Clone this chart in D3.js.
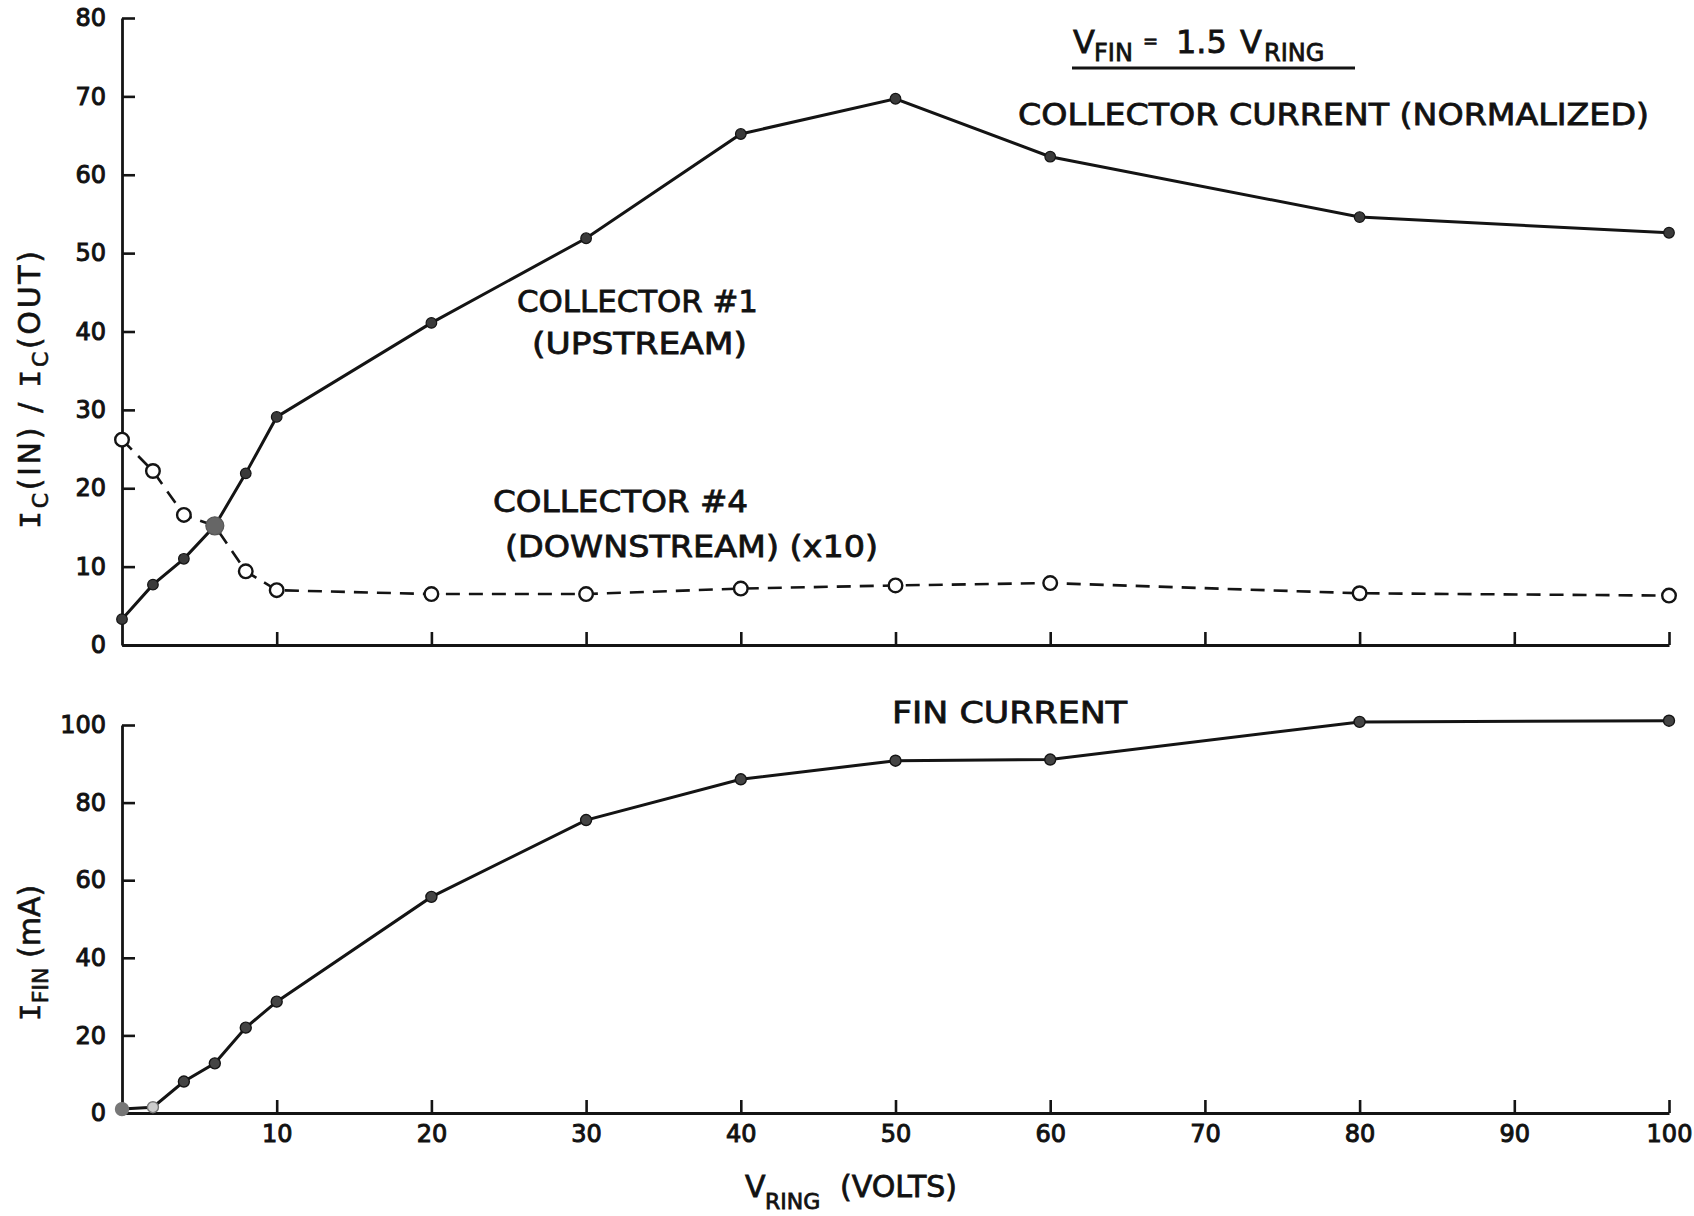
<!DOCTYPE html>
<html>
<head>
<meta charset="utf-8">
<script src="https://cdn.jsdelivr.net/npm/d3@7/dist/d3.min.js"></script>
<style>
  html, body { margin: 0; padding: 0; background: #fff; }
  svg { display: block; }
  text { font-family: "DejaVu Sans", sans-serif; fill: #111; }
</style>
</head>
<body>
<svg id="chart" width="1694" height="1216"></svg>
<script>
// ---- data ----
const vRing       = [0, 2, 4, 6, 8, 10, 20, 30, 40, 50, 60, 80, 100];
const collector1  = [3.3, 7.7, 11.0, 15.2, 21.9, 29.1, 41.1, 51.9, 65.2, 69.7, 62.3, 54.6, 52.6];
const collector4  = [26.2, 22.2, 16.6, 15.2, 9.4, 7.0, 6.5, 6.5, 7.2, 7.6, 7.9, 6.6, 6.3];
const finCurrent  = [1.0, 1.5, 8.1, 12.8, 22.0, 28.7, 55.7, 75.5, 86.0, 90.8, 91.1, 100.8, 101.1];
const topTicks    = [0, 10, 20, 30, 40, 50, 60, 70, 80];
const bottomTicks = [0, 20, 40, 60, 80, 100];
const xTicks      = [10, 20, 30, 40, 50, 60, 70, 80, 90, 100];

const svg = d3.select("#chart");
const ink = "#141414";

const x    = d3.scaleLinear().domain([0, 100]).range([122, 1669]);
const yTop = d3.scaleLinear().domain([0, 80]).range([645, 18]);
const yBot = d3.scaleLinear().domain([0, 100]).range([1113, 725]);

function styleAxis(g) {
  g.select(".domain").attr("stroke", ink).attr("stroke-width", 2.8);
  g.selectAll(".tick line").attr("stroke", ink).attr("stroke-width", 2.6);
  g.selectAll(".tick text")
    .attr("font-family", "DejaVu Sans, sans-serif")
    .attr("font-size", 24)
    .attr("fill", ink)
    .attr("stroke", ink).attr("stroke-width", 1.0);
}

// ---- top panel axes ----
svg.append("g").attr("transform", `translate(${x(0)},0)`)
  .call(d3.axisLeft(yTop).tickValues(topTicks).tickSizeInner(-13).tickSizeOuter(0).tickPadding(16))
  .call(styleAxis);
svg.append("g").attr("transform", `translate(0,${yTop(0)})`)
  .call(d3.axisBottom(x).tickValues(xTicks).tickSizeInner(-13).tickSizeOuter(0).tickFormat(""))
  .call(styleAxis);

// ---- bottom panel axes ----
svg.append("g").attr("transform", `translate(${x(0)},0)`)
  .call(d3.axisLeft(yBot).tickValues(bottomTicks).tickSizeInner(-13).tickSizeOuter(0).tickPadding(16))
  .call(styleAxis);
svg.append("g").attr("transform", `translate(0,${yBot(0)})`)
  .call(d3.axisBottom(x).tickValues(xTicks).tickSizeInner(-13).tickSizeOuter(0).tickPadding(12))
  .call(styleAxis);

// ---- lines ----
const lineTop = d3.line().x((d, i) => x(vRing[i])).y(d => yTop(d));
const lineBot = d3.line().x((d, i) => x(vRing[i])).y(d => yBot(d));

svg.append("path").datum(collector4).attr("d", lineTop)
  .attr("fill", "none").attr("stroke", ink).attr("stroke-width", 2.6)
  .attr("stroke-dasharray", "14,9");
svg.append("path").datum(collector1).attr("d", lineTop)
  .attr("fill", "none").attr("stroke", ink).attr("stroke-width", 3);
svg.append("path").datum(finCurrent).attr("d", lineBot)
  .attr("fill", "none").attr("stroke", ink).attr("stroke-width", 3);

// ---- markers ----
const c4pts = vRing.map((v, i) => ({ v, y: collector4[i] })).filter(d => d.v !== 6);
svg.append("g").selectAll("circle").data(c4pts).join("circle")
  .attr("cx", d => x(d.v)).attr("cy", d => yTop(d.y))
  .attr("r", 6.8).attr("fill", "#fff").attr("stroke", ink).attr("stroke-width", 2.4);

svg.append("g").selectAll("circle").data(collector1).join("circle")
  .attr("cx", (d, i) => x(vRing[i])).attr("cy", d => yTop(d))
  .attr("r", (d, i) => vRing[i] === 6 ? 9 : 5.3)
  .attr("fill", (d, i) => vRing[i] === 6 ? "#666" : "#3a3a3a")
  .attr("stroke", (d, i) => vRing[i] === 6 ? "#555" : ink).attr("stroke-width", 1.2);

svg.append("g").selectAll("circle").data(finCurrent).join("circle")
  .attr("cx", (d, i) => x(vRing[i])).attr("cy", d => yBot(d))
  .attr("r", (d, i) => i === 0 ? 6.5 : 5.5)
  .attr("fill", (d, i) => i === 0 ? "#777" : (i === 1 ? "#ccc" : "#444"))
  .attr("stroke", (d, i) => i < 2 ? "#777" : ink).attr("stroke-width", 1.4);

// ---- annotations ----
function label(txt, xx, yy, len, size) {
  svg.append("text").attr("x", xx).attr("y", yy)
    .attr("font-size", size).attr("textLength", len).attr("lengthAdjust", "spacingAndGlyphs")
    .attr("stroke", ink).attr("stroke-width", 0.8)
    .text(txt);
}
label("COLLECTOR  CURRENT  (NORMALIZED)", 1018, 125, 631, 30);
label("COLLECTOR  #1", 517, 312, 241, 30);
label("(UPSTREAM)", 532, 354, 215, 30);
label("COLLECTOR  #4", 493, 512, 255, 30);
label("(DOWNSTREAM)  (x10)", 505, 557, 373, 30);
label("FIN  CURRENT", 892, 723, 235, 30);

// title V_FIN = 1.5 V_RING
const t = svg.append("text").attr("y", 53).attr("font-size", 32)
  .attr("stroke", ink).attr("stroke-width", 0.8);
t.append("tspan").attr("x", 1073).text("V");
t.append("tspan").attr("x", 1094).attr("y", 61).attr("font-size", 24).text("FIN");
t.append("tspan").attr("x", 1143).attr("y", 47).attr("font-size", 18).text("=");
t.append("tspan").attr("x", 1176).attr("y", 53).text("1.5");
t.append("tspan").attr("x", 1240).attr("y", 53).text("V");
t.append("tspan").attr("x", 1264).attr("y", 61).attr("font-size", 24).text("RING");
svg.append("line").attr("x1", 1072).attr("x2", 1355).attr("y1", 68).attr("y2", 68)
  .attr("stroke", ink).attr("stroke-width", 3);

// x axis title
const xt = svg.append("text").attr("y", 1197).attr("font-size", 30)
  .attr("stroke", ink).attr("stroke-width", 0.8);
xt.append("tspan").attr("x", 745).text("V");
xt.append("tspan").attr("x", 765).attr("y", 1209).attr("font-size", 22).text("RING");
xt.append("tspan").attr("x", 840).attr("y", 1197).text("(VOLTS)");

// y axis titles (rotated)
const yt1 = svg.append("text").attr("transform", "translate(40,390) rotate(-90)")
  .attr("text-anchor", "middle").attr("font-size", 30)
  .attr("textLength", 278).attr("lengthAdjust", "spacing")
  .attr("stroke", ink).attr("stroke-width", 0.6);
yt1.append("tspan").attr("font-family", "Liberation Mono, monospace").text("I");
yt1.append("tspan").attr("dy", 8).attr("font-size", 22).text("C");
yt1.append("tspan").attr("dy", -8).text("(IN) / ");
yt1.append("tspan").attr("font-family", "Liberation Mono, monospace").text("I");
yt1.append("tspan").attr("dy", 8).attr("font-size", 22).text("C");
yt1.append("tspan").attr("dy", -8).text("(OUT)");

const yt2 = svg.append("text").attr("transform", "translate(40,953) rotate(-90)")
  .attr("text-anchor", "middle").attr("font-size", 30)
  .attr("stroke", ink).attr("stroke-width", 0.6);
yt2.append("tspan").attr("font-family", "Liberation Mono, monospace").text("I");
yt2.append("tspan").attr("dy", 8).attr("font-size", 22).text("FIN");
yt2.append("tspan").attr("dy", -8).text(" (mA)");
</script>
</body>
</html>
